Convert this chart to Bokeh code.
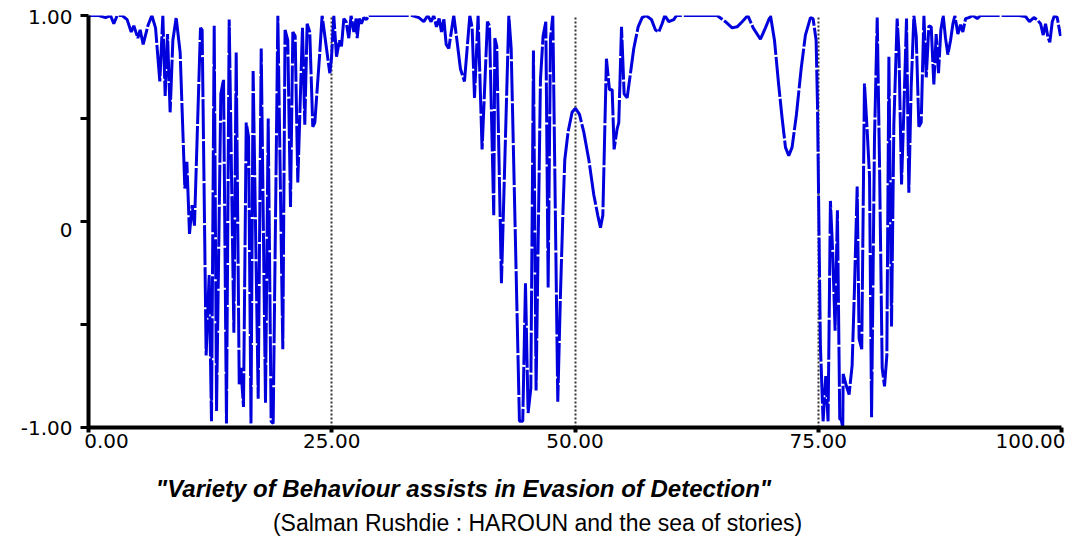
from bokeh.plotting import figure
from bokeh.models import Range1d, FixedTicker, LinearAxis
from bokeh.embed import file_html
from bokeh.resources import INLINE

# ---- data ----
x_values = [
    0.0, 0.21, 1.06, 1.75, 2.26, 2.6, 2.95, 3.46, 3.97, 4.39, 4.66, 5.07, 5.31, 5.62, 6.1, 6.51,
    6.89, 7.33, 7.64, 7.88, 8.12, 8.39, 8.67, 9.01, 9.42, 9.9, 10.11, 10.38, 10.65, 10.89, 11.51,
    11.68, 12.09, 12.4, 12.64, 12.92, 13.16, 13.6, 13.88, 14.18, 14.46, 14.94, 15.18, 15.49, 15.66,
    15.93, 16.21, 16.45, 16.7, 16.92, 17.44, 17.75, 18.19, 18.47, 18.77, 18.98, 19.46, 19.97,
    20.2, 20.48, 20.76, 21.0, 21.24, 21.51, 21.99, 22.23, 22.47, 22.74, 23.05, 23.26, 23.77, 24.01,
    24.46, 24.8, 24.97, 25.21, 25.49, 25.79, 26.0, 26.24, 26.48, 26.75, 26.99, 27.27, 27.51, 27.61,
    27.82, 28.05, 28.3, 28.57, 28.81, 30.0, 31.72, 33.26, 33.95, 34.46, 34.87, 35.21, 35.49, 35.76,
    36.04, 36.28, 36.52, 36.76, 37.03, 37.54, 37.89, 38.23, 38.64, 39.19, 39.43, 39.67, 40.04,
    40.45, 41.0, 41.21, 41.65, 41.76, 41.96, 42.44, 43.2, 43.44, 44.29, 44.63, 44.91, 45.18, 45.46,
    45.73, 46.0, 46.45, 46.72, 47.0, 47.24, 47.48, 47.72, 48.23, 48.49, 48.75, 48.95, 49.29, 49.7,
    50.05, 50.46, 50.9, 51.42, 51.93, 52.34, 52.62, 52.86, 53.23, 53.54, 53.82, 54.02, 54.33, 54.5,
    54.78, 55.05, 55.36, 55.7, 56.04, 56.49, 56.9, 57.31, 57.86, 58.27, 58.61, 58.95, 59.23, 59.64,
    60.15, 60.43, 61.87, 63.24, 64.61, 65.46, 66.15, 66.66, 67.18, 67.76, 68.31, 69.06, 69.57,
    70.09, 70.5, 70.94, 71.29, 71.63, 71.97, 72.31, 72.76, 73.24, 73.68, 74.2, 74.47, 74.78, 74.92,
    75.05, 75.22, 75.5, 75.77, 76.01, 76.25, 76.49, 76.73, 76.97, 77.21, 77.35, 77.52, 77.56, 77.9,
    78.17, 78.48, 78.72, 79.0, 79.2, 79.47, 79.75, 80.03, 80.27, 80.48, 80.78, 81.06, 81.3, 81.57,
    81.81, 82.05, 82.26, 82.53, 82.77, 83.11, 83.29, 83.56, 83.8, 84.07, 84.31, 84.55, 84.83, 85.07,
    85.34, 85.58, 85.86, 86.1, 86.37, 86.61, 86.88, 87.12, 87.36, 87.6, 87.84, 88.08, 88.32, 88.6,
    88.84, 89.04, 89.35, 89.62, 89.86, 90.14, 90.48, 90.89, 91.34, 91.68, 92.88, 94.25, 95.62,
    96.3, 96.71, 97.16, 97.5, 97.85, 98.12, 98.36, 98.6, 98.8, 99.05, 99.28, 99.56, 99.9,
]
y_values = [
    1.0, 1.0, 1.0, 0.99, 1.0, 0.96, 1.0, 1.0, 0.98, 0.92, 0.95, 0.89, 0.93, 0.86, 0.95, 1.0,
    0.94, 0.68, 1.0, 0.61, 0.91, 0.53, 0.88, 0.99, 0.82, 0.16, 0.29, -0.06, 0.08, -0.02, 0.94,
    0.93, -0.65, -0.26, -0.97, 0.95, -0.92, 0.62, 0.69, -0.98, 0.98, -0.54, 0.82, -0.79, -0.71,
    -0.90, 0.48, 0.41, -0.98, 0.73, -0.86, 0.84, -0.88, 0.50, -0.97, -0.98, 1.0, -0.62,
    0.93, 0.88, 0.07, 0.92, 0.90, 0.19, 0.94, 0.47, 0.96, 0.92, 0.46, 0.48, 0.82, 1.0,
    0.84, 0.72, 0.79, 1.0, 0.80, 0.88, 0.85, 0.985, 0.97, 0.89, 1.0, 0.92, 0.985, 0.89,
    0.985, 0.96, 0.99, 0.98, 1.0, 1.0, 1.0, 1.0, 0.99, 0.97, 1.0, 0.97, 1.0, 0.945,
    0.985, 0.92, 0.985, 0.86, 0.84, 1.0, 0.87, 0.74, 0.68, 1.0, 0.94, 0.60, 1.0,
    0.35, 0.97, 0.95, 0.03, 0.89, 0.85, -0.30, 1.0, 0.84, -0.97, -0.97, -0.30, -0.93, -0.81,
    0.83, -0.82, 0.69, 0.90, 0.97, -0.32, 0.89, 1.0, -0.875, -0.38, 0.03, 0.30, 0.435, 0.53,
    0.55, 0.52, 0.435, 0.30, 0.13, 0.03, -0.03, 0.03, 0.79, 0.64, 0.64, 0.35, 0.45, 0.48,
    0.945, 0.62, 0.60, 0.72, 0.84, 0.945, 0.99, 1.0, 0.98, 0.93, 0.92, 0.96, 1.0, 0.97,
    0.98, 1.0, 1.0, 1.0, 1.0, 0.97, 0.94, 0.945, 0.97, 1.0, 0.94, 0.885, 0.94,
    1.0, 0.88, 0.66, 0.50, 0.36, 0.32, 0.36, 0.52, 0.74, 0.905, 0.99, 0.985, 0.88, 0.57,
    0.06, -0.60, -0.97, -0.75, -0.97, 0.10, -0.155, -0.53, 0.055, -0.96, -0.96, -1.0, -0.74, -0.80,
    -0.84, -0.70, -0.33, 0.17, -0.57, -0.62, 0.67, 0.44, 0.22, -0.95, 0.40, 0.99, 0.27, -0.71,
    -0.80, -0.65, 0.80, -0.51, 0.47, 0.985, 0.83, 0.18, 0.54, 0.985, 0.14, 0.65, 1.0, 0.90,
    0.46, 0.48, 1.0, 0.70, 0.95, 0.945, 0.665, 0.91, 0.72, 0.93, 1.0, 0.89, 0.81, 0.88,
    0.96, 1.0, 0.91, 0.955, 0.92, 0.985, 0.99, 1.0, 0.985, 1.0, 1.0, 1.0, 1.0,
    0.995, 0.97, 0.99, 0.98, 0.96, 0.905, 0.96, 0.895, 0.87, 0.97, 1.0, 0.99, 0.90,
]

x_ticks = [0, 25, 50, 75, 100]
x_tick_labels = ["0.00", "25.00", "50.00", "75.00", "100.00"]
y_ticks = [-1, -0.5, 0, 0.5, 1]
y_labelled = [-1, 0, 1]
y_tick_labels = ["-1.00", "0", "1.00"]
x_grid_lines = [25, 50, 75, 100]
y_grid_lines = [1]

title_text = '"Variety of Behaviour assists in Evasion of Detection"'
source_text = "(Salman Rushdie : HAROUN and the sea of stories)"

# ---- layout constants (pixels) ----
W, H = 1075, 539
BORDER_L, BORDER_R, BORDER_T, BORDER_B = 88, 14, 15, 112
PX_X = 100 / (W - BORDER_L - BORDER_R)   # data units per pixel
PX_Y = 2 / (H - BORDER_T - BORDER_B)

p = figure(
    width=W, height=H,
    x_range=Range1d(0, 100), y_range=Range1d(-1, 1),
    output_backend="svg", toolbar_location=None,
    min_border_left=BORDER_L, min_border_right=BORDER_R,
    min_border_top=BORDER_T, min_border_bottom=BORDER_B,
)
p.outline_line_color = None
p.background_fill_color = "white"
p.border_fill_color = "white"

# dotted reference lines
p.xgrid.ticker = FixedTicker(ticks=x_grid_lines)
p.ygrid.ticker = FixedTicker(ticks=y_grid_lines)
for g in (p.xgrid, p.ygrid):
    g.grid_line_color = "#333333"
    g.grid_line_width = 2
    g.grid_line_dash = "2 2"

TICK_FONT = "DejaVu Sans"
TICK_SIZE = "20px"

# x axis: visible tick marks are the minor ticks; the (invisible) major ticks carry the labels,
# nudged so that the end labels stay inside the chart like in the original
x_label_shift_px = {0: 18, 100: -31}
x_label_pos = [t + x_label_shift_px.get(t, 0) * PX_X for t in x_ticks]
p.xaxis.ticker = FixedTicker(ticks=x_label_pos, minor_ticks=x_ticks)
p.xaxis.major_label_overrides = dict(zip(x_label_pos, x_tick_labels))
p.xaxis.axis_line_width = 4
p.xaxis.axis_line_color = "black"
p.xaxis.major_tick_line_color = None
p.xaxis.major_tick_in = 0
p.xaxis.major_tick_out = 3
p.xaxis.minor_tick_in = 0
p.xaxis.minor_tick_out = 5
p.xaxis.minor_tick_line_width = 4
p.xaxis.minor_tick_line_color = "black"
p.xaxis.major_label_standoff = 1
p.xaxis.major_label_text_font = TICK_FONT
p.xaxis.major_label_text_font_size = TICK_SIZE
p.xaxis.major_label_text_color = "black"

# y axis: same trick, labels sit slightly below their tick as in the original
y_label_shift_px = {1: 1, 0: 8, -1: 0}
y_label_pos = [t - y_label_shift_px[t] * PX_Y for t in y_labelled]
p.yaxis.ticker = FixedTicker(ticks=y_label_pos, minor_ticks=y_ticks)
p.yaxis.major_label_overrides = dict(zip(y_label_pos, y_tick_labels))
p.yaxis.axis_line_width = 4
p.yaxis.axis_line_color = "black"
p.yaxis.major_tick_line_color = None
p.yaxis.major_tick_in = 0
p.yaxis.major_tick_out = 8
p.yaxis.minor_tick_in = 0
p.yaxis.minor_tick_out = 8
p.yaxis.minor_tick_line_width = 3
p.yaxis.minor_tick_line_color = "black"
p.yaxis.major_label_standoff = 8
p.yaxis.major_label_text_font = TICK_FONT
p.yaxis.major_label_text_font_size = TICK_SIZE
p.yaxis.major_label_text_color = "black"

# data line
p.line(x_values, y_values, line_color="#0000dd", line_width=3, line_dash="40 2")


# captions under the chart: each one is carried by a bare axis placed below the x axis,
# which gives exact control of its vertical position through the label standoff
def caption_axis(text, center_px, standoff, font_size, font_style):
    pos = (center_px - BORDER_L) * PX_X
    ax = LinearAxis(
        ticker=FixedTicker(ticks=[pos], minor_ticks=[]),
        major_label_overrides={pos: text},
        axis_line_color=None, major_tick_line_color=None, minor_tick_line_color=None,
        major_tick_in=0, major_tick_out=0, minor_tick_in=0, minor_tick_out=0,
        major_label_standoff=standoff,
        major_label_text_font="Liberation Sans",
        major_label_text_font_size=font_size,
        major_label_text_font_style=font_style,
        major_label_text_color="black",
    )
    p.add_layout(ax, "below")


caption_axis(title_text, 463, 24, "24px", "bold italic")
caption_axis(source_text, 537, 5, "23px", "normal")

open("out.html", "w").write(file_html(p, INLINE))
